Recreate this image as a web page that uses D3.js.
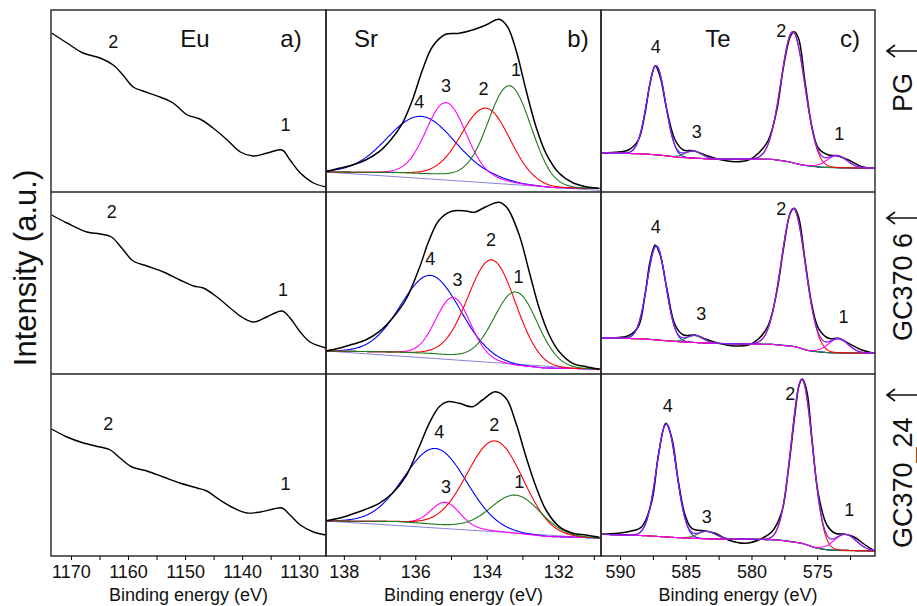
<!DOCTYPE html>
<html>
<head>
<meta charset="utf-8">
<script src="https://cdn.jsdelivr.net/npm/d3@7"></script>
<style>
  body{margin:0;background:#fff;}
  svg{display:block;font-family:"Liberation Sans",Arial,sans-serif;}
</style>
</head>
<body>
<div id="chart"></div>
<script>
// samples, top to bottom
const samples=["PG","GC370 6","GC370_24"];

// axis ranges and ticks (binding energy, eV)
const euRange=[1173.5,1125.3], euTicks=[1170,1160,1150,1140,1130], euMinor=[1165,1155,1145,1135];
const srRange=[138.5,130.8],   srTicks=[138,136,134,132],          srMinor=[137,135,133,131];
const teRange=[591.45,570.6],  teTicks=[590,585,580,575],          teMinor=[587.5,582.5,577.5,572.5];

// Eu 3d spectra [eV, intensity]
const euPG=[[1173.4,159],[1170.7,149],[1167.9,139],[1164.9,134],[1162.6,127],[1160.9,117],[1159.1,105],[1157.4,101],[1154.4,95],[1152.1,89],[1149.6,77],[1147.4,73],[1145.1,64],[1142.6,52],[1140.3,40],[1138.1,36],[1135.6,39],[1133.0,42],[1131.6,32],[1129.8,19],[1127.5,9],[1125.3,5]];
const euGC6=[[1173.4,159],[1170.7,151],[1167.2,142],[1164.9,140],[1162.9,137],[1161.1,126],[1159.1,113],[1156.7,108],[1153.8,102],[1150.9,94],[1148.5,88],[1146.8,86],[1144.4,77],[1142.1,66],[1139.8,56],[1138.0,52],[1135.7,57],[1133.0,63],[1131.6,56],[1129.8,42],[1128.1,32],[1125.3,26]];
const euGC24=[[1173.4,127],[1170.7,119],[1167.8,113],[1164.9,109],[1163.1,106],[1161.4,98],[1159.3,89],[1156.7,85],[1153.8,79],[1150.9,73],[1147.9,68],[1146.2,65],[1143.9,56],[1141.5,48],[1139.2,43],[1136.8,44],[1134.5,47],[1133.0,48],[1131.6,41],[1129.8,31],[1127.5,24],[1125.3,21]];
const euLabelsPG=[["2",1162.6,150],["1",1132.4,67]];
const euLabelsGC6=[["2",1162.85,162],["1",1132.85,84]];
const euLabelsGC24=[["2",1163.45,132],["1",1132.4,72]];

// Sr 3d spectra
const srMeasPG=[[138.51,20.3],[138.14,23.7],[137.76,27],[137.39,32],[137.01,40.3],[136.69,52],[136.36,68.7],[136.08,92],[135.80,122],[135.52,145.3],[135.15,157.7],[134.77,158.7],[134.40,162],[134.02,167],[133.65,172.7],[133.42,165.3],[133.18,142],[132.90,102],[132.62,65.3],[132.34,38.7],[131.97,18.7],[131.59,9.3],[131.22,5.3],[130.85,3.7]];
const srMeasGC6=[[138.51,23],[138.14,25.7],[137.76,29.7],[137.39,34],[137.01,42.3],[136.64,55.7],[136.27,74],[135.89,105.7],[135.61,134],[135.33,154],[134.96,163],[134.58,163],[134.35,161.7],[134.02,167.3],[133.65,171.7],[133.42,165.7],[133.09,139],[132.81,102.3],[132.53,65.7],[132.25,39],[131.97,22.3],[131.59,10.7],[131.22,7.3],[130.85,5]];
const srMeasGC24=[[138.51,35.3],[138.14,37.7],[137.76,42],[137.39,46.7],[137.01,52.7],[136.64,62.7],[136.27,79.3],[135.89,109.3],[135.61,132.7],[135.33,149.3],[135.10,154.3],[134.77,152.7],[134.40,149.3],[134.12,156],[133.76,164.3],[133.46,157.7],[133.18,132.7],[132.90,99.3],[132.62,69.3],[132.34,46],[131.97,29.3],[131.59,22.7],[131.22,21],[130.85,18.7]];
const srBgPG=[[138.5,20],[136.5,19.5],[135.4,18],[134.6,16],[133.8,13],[133.0,8],[132.2,4.5],[130.8,3.5]];
const srBgGC6=[[138.5,23],[136.5,22],[135.5,20.5],[134.8,18],[134.0,14],[133.2,9],[132.4,6],[130.8,5]];
const srBgGC24=[[138.5,35],[136.5,34.5],[135.9,33],[134.8,29.5],[134.0,26],[133.1,22.5],[132.3,19.5],[130.8,18]];
const srLinePG=[[138.5,20],[130.8,1.5]];
const srLineGC6=[[138.5,23],[130.8,4]];
const srLineGC24=[[138.5,35],[130.8,17.5]];
// fitted peaks [label, centre eV, height, FWHM eV]
const srPeaksPG=[["4",135.85,57,2.20],["3",135.14,72,1.30],["2",134.02,70,1.59],["1",133.35,96,1.40]];
const srPeaksGC6=[["4",135.58,78,1.94],["3",134.94,58,1.12],["2",133.85,101,1.57],["1",133.18,73,1.42]];
const srPeaksGC24=[["4",135.43,76,2.03],["3",135.16,23,0.93],["2",133.76,90,1.84],["1",133.18,38,1.65]];
const srLabelsPG=[["4",135.89,90],["3",135.14,106],["2",134.09,103],["1",133.18,122]];
const srLabelsGC6=[["4",135.58,115],["3",134.82,94],["2",133.88,134],["1",133.11,97]];
const srLabelsGC24=[["4",135.33,124],["3",135.14,69],["2",133.79,131],["1",133.09,74]];

// Te 3d spectra
const teMeasPG=[[591.39,39.3],[590.38,39.7],[589.37,42],[588.61,52],[588.10,78.7],[587.72,108.7],[587.33,126.3],[586.95,115.3],[586.44,82],[585.81,52],[585.18,42],[584.42,41.3],[583.53,37],[582.51,32.7],[581.24,30.3],[580.23,32],[579.47,38.7],[578.71,52],[578.07,82],[577.56,125.3],[577.05,155.3],[576.75,160.3],[576.42,153.7],[575.91,108.7],[575.40,65.3],[574.90,43.7],[574.14,37],[573.50,36.3],[572.61,32],[571.59,25.3],[570.63,23.7]];
const teMeasGC6=[[591.39,36.3],[589.37,38.3],[588.61,47.3],[588.10,79],[587.72,112.3],[587.33,129],[586.95,119],[586.44,85.7],[585.81,49],[585.18,39],[584.29,39],[583.53,35],[582.51,30.7],[581.24,28],[580.23,29],[579.47,35],[578.71,49],[578.07,82.3],[577.56,125.7],[577.05,160.7],[576.75,165.7],[576.42,157.3],[575.91,112.3],[575.40,69],[574.90,45.7],[574.14,35.7],[573.38,35.7],[572.61,30.7],[571.59,24],[570.63,20.7]];
const teMeasGC24=[[591.39,21.7],[589.37,24.3],[588.35,29.3],[587.59,54.3],[587.08,101],[586.52,132.7],[586.06,117.7],[585.56,74.3],[585.05,41],[584.54,27.7],[583.53,25],[582.76,22.7],[581.75,16],[580.48,12.7],[579.47,16],[578.45,24.3],[577.69,44.3],[577.18,87.7],[576.67,144.3],[576.37,171],[576.12,177],[575.78,164.3],[575.40,117.7],[574.90,61],[574.26,31],[573.63,22.7],[572.87,21.7],[572.23,19.3],[571.34,11],[570.63,5]];
const teBgPG=[[591.45,39.3],[588.10,38],[586.83,36.7],[585.56,34.7],[583.02,33],[580.48,33],[578.45,32.7],[577.18,30.3],[576.16,27],[574.64,24.7],[570.6,23.7]];
const teBgGC6=[[591.45,36.3],[588.10,35],[585.56,32.3],[583.02,30.7],[580.48,30],[578.45,29.7],[576.67,27.3],[575.65,23.3],[574.14,21.3],[570.6,20.7]];
const teBgGC24=[[591.45,21.7],[588.10,20.3],[585.56,18.3],[583.02,17],[580.48,17],[577.94,16],[576.16,12.7],[575.15,8.3],[574.14,6],[570.6,5]];
const tePeaksPG=[["4",587.25,89,1.65],["3",584.42,7,1.5],["2",576.84,131,2.15],["1",573.5,12,1.8]];
const tePeaksGC6=[["4",587.23,94,1.67],["3",584.3,7,1.5],["2",576.81,138,2.18],["1",573.4,14,1.8]];
const tePeaksGC24=[["4",586.47,113,1.77],["3",583.4,7.5,1.6],["2",576.16,164,1.91],["1",572.87,16,2.0]];
const teLabelsPG=[["4",587.28,145],["3",584.16,60],["2",577.74,161],["1",573.32,58]];
const teLabelsGC6=[["4",587.28,147],["3",583.83,60],["2",577.74,165],["1",573.0,57]];
const teLabelsGC24=[["4",586.37,150],["3",583.40,39],["2",577.05,162],["1",572.56,46]];

const srColors={"1":"#1e7b1e","2":"#ff0000","3":"#ff00ff","4":"#0000ff"};
const teColors={"1":"#ff00ff","2":"#ff0000","3":"#2e8b2e","4":"#0000ff"};

const width=917,height=606,plotTop=10,rowH=182,plotBottom=plotTop+3*rowH;
const svg=d3.select("#chart").append("svg").attr("width",width).attr("height",height);
const defs=svg.append("defs");
const yScales=samples.map((s,i)=>d3.scaleLinear().domain([0,182]).range([plotTop+rowH*(i+1),plotTop+rowH*i]));

const panels=[
  {key:"eu",name:"Eu",tag:"a)",nameX:195,tagX:291,x0:51,x1:326,domain:euRange,ticks:euTicks,minor:euMinor,
   meas:[euPG,euGC6,euGC24],labels:[euLabelsPG,euLabelsGC6,euLabelsGC24]},
  {key:"sr",name:"Sr",tag:"b)",nameX:366,tagX:578,x0:326,x1:601,domain:srRange,ticks:srTicks,minor:srMinor,
   meas:[srMeasPG,srMeasGC6,srMeasGC24],labels:[srLabelsPG,srLabelsGC6,srLabelsGC24],
   bg:[srBgPG,srBgGC6,srBgGC24],lines:[srLinePG,srLineGC6,srLineGC24],peaks:[srPeaksPG,srPeaksGC6,srPeaksGC24],colors:srColors,step:0.02},
  {key:"te",name:"Te",tag:"c)",nameX:718,tagX:850,x0:601,x1:875,domain:teRange,ticks:teTicks,minor:teMinor,
   meas:[teMeasPG,teMeasGC6,teMeasGC24],labels:[teLabelsPG,teLabelsGC6,teLabelsGC24],
   bg:[teBgPG,teBgGC6,teBgGC24],peaks:[tePeaksPG,tePeaksGC6,tePeaksGC24],colors:teColors,step:0.04,envelope:true}
];

const gauss=(e,p)=>p[2]*Math.exp(-4*Math.LN2*((e-p[1])/p[3])**2);

panels.forEach(p=>{
  const x=d3.scaleLinear().domain(p.domain).range([p.x0,p.x1]);
  samples.forEach((s,i)=>{
    const y=yScales[i];
    const clipId=`clip-${p.key}-${i}`;
    defs.append("clipPath").attr("id",clipId).append("rect")
      .attr("x",p.x0).attr("y",plotTop+rowH*i).attr("width",p.x1-p.x0).attr("height",rowH);
    const g=svg.append("g").attr("clip-path",`url(#${clipId})`);
    const line=d3.line().x(d=>x(d[0])).y(d=>y(d[1]));
    const smooth=d3.line().x(d=>x(d[0])).y(d=>y(d[1])).curve(d3.curveCatmullRom.alpha(0.5));

    if(p.peaks){
      const bgPts=p.bg[i];
      const bg=d3.scaleLinear().domain(bgPts.map(d=>d[0])).range(bgPts.map(d=>d[1]));
      const energies=d3.range(p.domain[1],p.domain[0]+p.step,p.step);
      if(p.lines){
        g.append("path").attr("d",line(p.lines[i])).attr("fill","none").attr("stroke","#7a74d6").attr("stroke-width",0.9);
      }
      if(p.envelope){
        g.append("path").attr("d",smooth(p.meas[i])).attr("fill","none").attr("stroke","#000").attr("stroke-width",1.5);
        g.append("path").attr("d",smooth(bgPts)).attr("fill","none").attr("stroke","#2d6a2d").attr("stroke-width",1);
      }
      p.peaks[i].forEach(pk=>{
        g.append("path").attr("d",line(energies.map(e=>[e,bg(e)+gauss(e,pk)])))
          .attr("fill","none").attr("stroke",p.colors[pk[0]]).attr("stroke-width",1.1);
      });
      if(p.envelope){
        g.append("path").attr("d",line(energies.map(e=>[e,bg(e)+d3.sum(p.peaks[i],pk=>gauss(e,pk))])))
          .attr("fill","none").attr("stroke","#7f22f0").attr("stroke-width",1.3);
      }else{
        g.append("path").attr("d",smooth(p.meas[i])).attr("fill","none").attr("stroke","#000").attr("stroke-width",1.5);
      }
    }else{
      g.append("path").attr("d",smooth(p.meas[i])).attr("fill","none").attr("stroke","#000").attr("stroke-width",1.4);
    }

    svg.append("g").selectAll("text").data(p.labels[i]).enter().append("text")
      .attr("x",d=>x(d[1])).attr("y",d=>y(d[2])).attr("dy","0.36em")
      .attr("text-anchor","middle").attr("font-size",18).attr("fill","#111").text(d=>d[0]);
  });

  // frame and row separators
  svg.append("rect").attr("x",p.x0).attr("y",plotTop).attr("width",p.x1-p.x0).attr("height",3*rowH)
    .attr("fill","none").attr("stroke","#222").attr("stroke-width",1.4);
  [1,2].forEach(k=>svg.append("line").attr("x1",p.x0).attr("x2",p.x1)
    .attr("y1",plotTop+rowH*k).attr("y2",plotTop+rowH*k).attr("stroke","#222").attr("stroke-width",1.4));

  // bottom axis
  const axis=svg.append("g").attr("transform",`translate(0,${plotBottom})`)
    .call(d3.axisBottom(x).tickValues(p.ticks).tickSize(4).tickPadding(5).tickFormat(d3.format("d")));
  axis.select(".domain").remove();
  axis.selectAll("text").attr("font-size",18).attr("fill","#111").attr("font-family","Liberation Sans, Arial, sans-serif");
  const minor=svg.append("g").attr("transform",`translate(0,${plotBottom})`)
    .call(d3.axisBottom(x).tickValues(p.minor).tickSize(4).tickFormat(""));
  minor.select(".domain").remove();
  svg.append("text").attr("x",(p.x0+p.x1)/2).attr("y",601).attr("text-anchor","middle")
    .attr("font-size",18).attr("fill","#111").text("Binding energy (eV)");

  svg.append("text").attr("x",p.nameX).attr("y",47).attr("text-anchor","middle").attr("font-size",24).attr("fill","#111").text(p.name);
  svg.append("text").attr("x",p.tagX).attr("y",47).attr("text-anchor","middle").attr("font-size",24).attr("fill","#111").text(p.tag);
});

svg.append("text").attr("transform","translate(36,268) rotate(-90)").attr("text-anchor","middle")
  .attr("font-size",31).attr("fill","#111").text("Intensity (a.u.)");

// sample names on the right, each with an arrow pointing up along the text
const sampleBottoms=[112,341,548], arrowYs=[51,218,395];
samples.forEach((s,i)=>{
  svg.append("text").attr("transform",`translate(912,${sampleBottoms[i]}) rotate(-90)`).attr("text-anchor","start")
    .attr("font-size",27).attr("fill","#111").text(s);
  const ay=arrowYs[i];
  svg.append("path").attr("d",`M917,${ay}H887M895,${ay-6}L887,${ay}L895,${ay+6}`)
    .attr("fill","none").attr("stroke","#111").attr("stroke-width",1.6);
});
</script>
</body>
</html>
